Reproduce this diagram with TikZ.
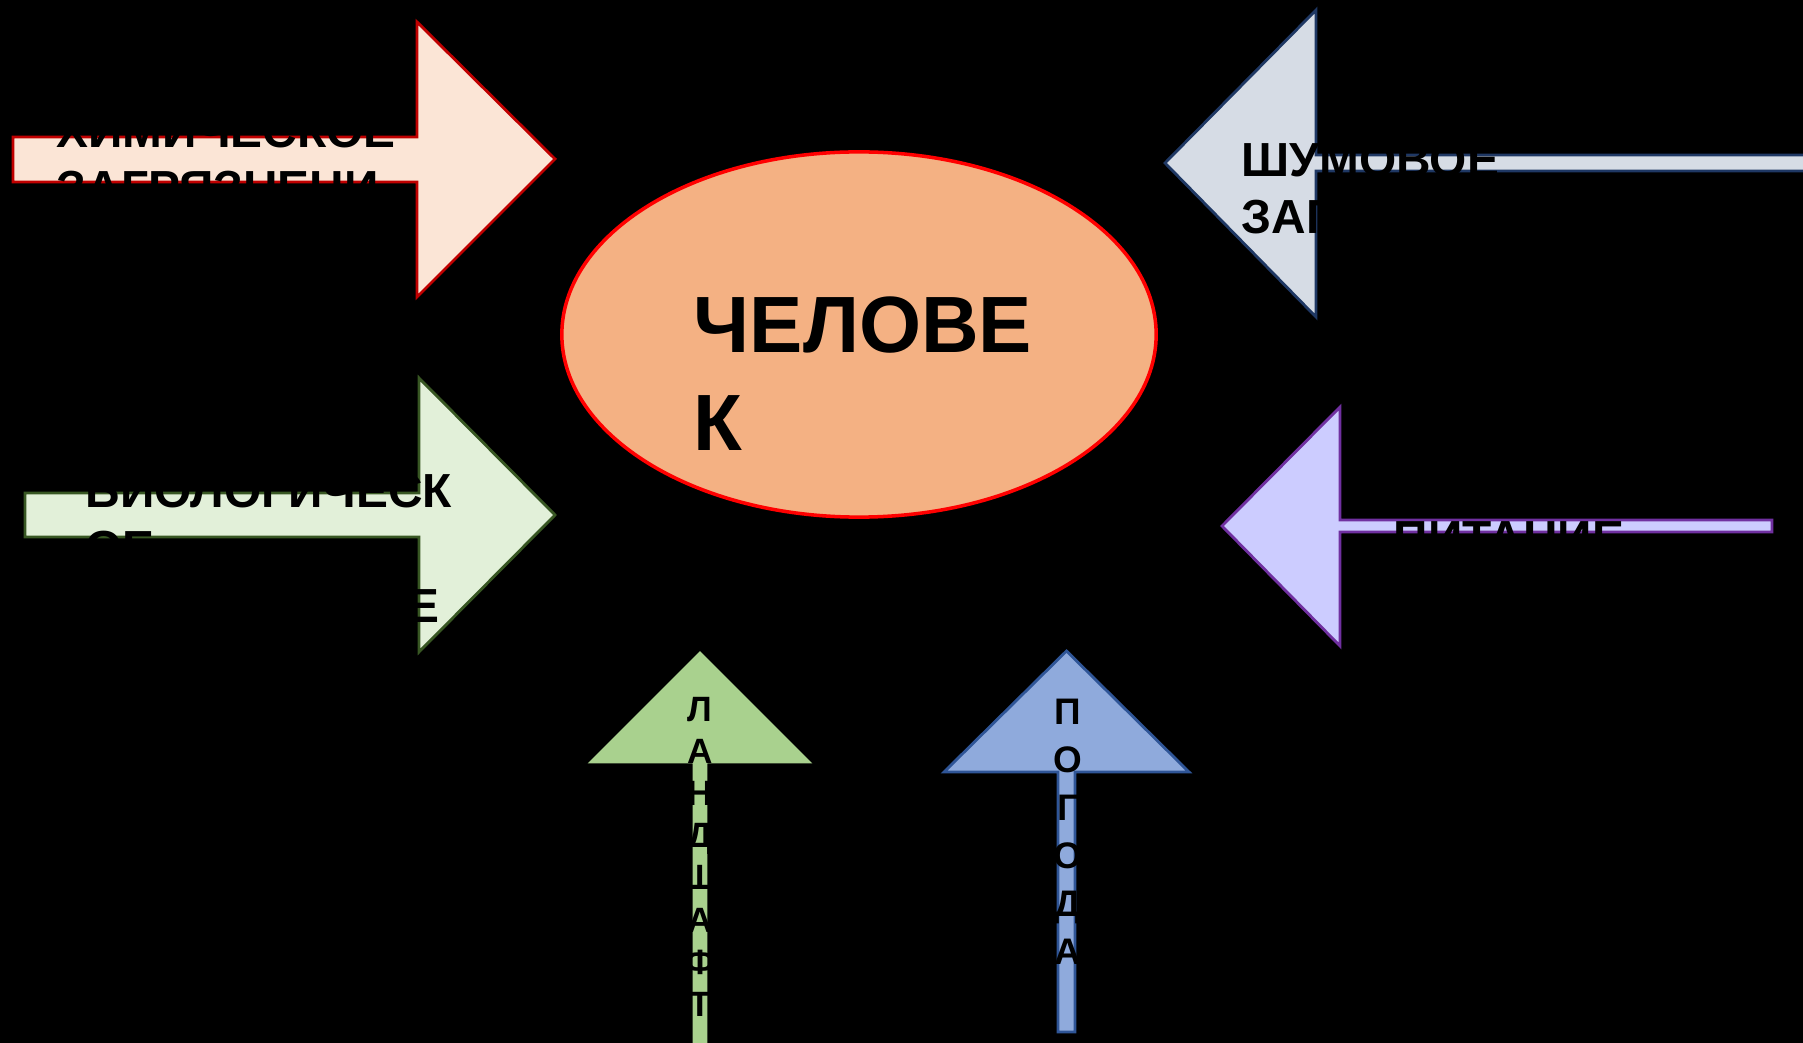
\documentclass[tikz,border=0pt]{standalone}
\usepackage{fontspec}
\setmainfont{Liberation Sans}
\usetikzlibrary{shapes.geometric}
\definecolor{chemfill}{HTML}{FBE5D6}
\definecolor{chemline}{HTML}{C00000}
\definecolor{biofill}{HTML}{E2F0D9}
\definecolor{bioline}{HTML}{385723}
\definecolor{noisefill}{HTML}{D6DCE5}
\definecolor{noiseline}{HTML}{1F3864}
\definecolor{foodfill}{HTML}{CCCCFF}
\definecolor{foodline}{HTML}{7030A0}
\definecolor{manfill}{HTML}{F4B183}
\definecolor{manline}{HTML}{FF0000}
\definecolor{landfill}{HTML}{A9D18E}
\definecolor{weatherfill}{HTML}{8FAADC}
\definecolor{weatherline}{HTML}{2F5597}
\begin{document}
\begin{tikzpicture}[x=0.01cm,y=-0.01cm,
  shapeline/.style={line width=0.8pt, line join=miter},
  labeltext/.style={anchor=north west, inner sep=0pt, align=left, text=black,
    font=\fontsize{13.6}{16.36}\selectfont\bfseries},
  mantext/.style={anchor=north west, inner sep=0pt, align=left, text=black,
    font=\fontsize{22.7}{27.9}\selectfont\bfseries},
  landtext/.style={anchor=north, inner sep=0pt, align=center, text=black,
    font=\fontsize{10}{11.95}\selectfont\bfseries},
  weathertext/.style={anchor=north, inner sep=0pt, align=center, text=black,
    font=\fontsize{10.5}{13.66}\selectfont\bfseries}]
\fill[black] (0,0) rectangle (1803,1043);
\useasboundingbox (0,0) rectangle (1803,1043);
% chemical arrow
\draw[shapeline, draw=chemline, fill=chemfill]
  (13,137) -- (417,137) -- (417,22) -- (555,159) -- (417,297) -- (417,182) -- (13,182) -- cycle;
% biological arrow
\draw[shapeline, draw=bioline, fill=biofill]
  (25,493) -- (419,493) -- (419,378) -- (555,515) -- (419,652) -- (419,537) -- (25,537) -- cycle;
% noise arrow
\draw[shapeline, draw=noiseline, fill=noisefill]
  (1812,155) -- (1316,155) -- (1316,10) -- (1165,163) -- (1316,317) -- (1316,171) -- (1812,171);
% food arrow
\draw[shapeline, draw=foodline, fill=foodfill]
  (1772,520) -- (1340,520) -- (1340,407) -- (1222,526) -- (1340,646) -- (1340,532) -- (1772,532) -- cycle;
% landscape arrow
\draw[shapeline, draw=landfill, fill=landfill]
  (694,1052) -- (694,762) -- (591,762) -- (700,653) -- (809,762) -- (706,762) -- (706,1052);
% weather arrow
\draw[shapeline, draw=weatherline, fill=weatherfill]
  (1058,1032) -- (1058,772) -- (944,772) -- (1066.5,651) -- (1189,772) -- (1075,772) -- (1075,1032) -- cycle;
% man ellipse
\node[ellipse, draw=manline, fill=manfill, line width=1pt,
  minimum width=5.94cm, minimum height=3.65cm, inner sep=0pt] (man) at (859,334.5) {};
% texts
\node[labeltext] (chemtxt) at (56,113) {ХИМИЧЕСКОЕ\\ЗАГРЯЗНЕНИ\\Е};
\node[labeltext] (biotxt) at (85,473) {БИОЛОГИЧЕСК\\ОЕ\\ЗАГРЯЗНЕНИЕ};
\node[labeltext] (noisetxt) at (1241,142) {ШУМОВОЕ\\ЗАГРЯЗНЕНИЕ};
\node[labeltext] (foodtxt) at (1393,521) {ПИТАНИЕ};
\node[mantext] (mantxt) at (693,296) {ЧЕЛОВЕ\\К};
\node[landtext] (landtxt) at (700,697) {Л\\А\\Н\\Д\\Ш\\А\\Ф\\Т};
\node[weathertext] (weathertxt) at (1068,698) {П\\О\\Г\\О\\Д\\А};
\end{tikzpicture}
\end{document}
